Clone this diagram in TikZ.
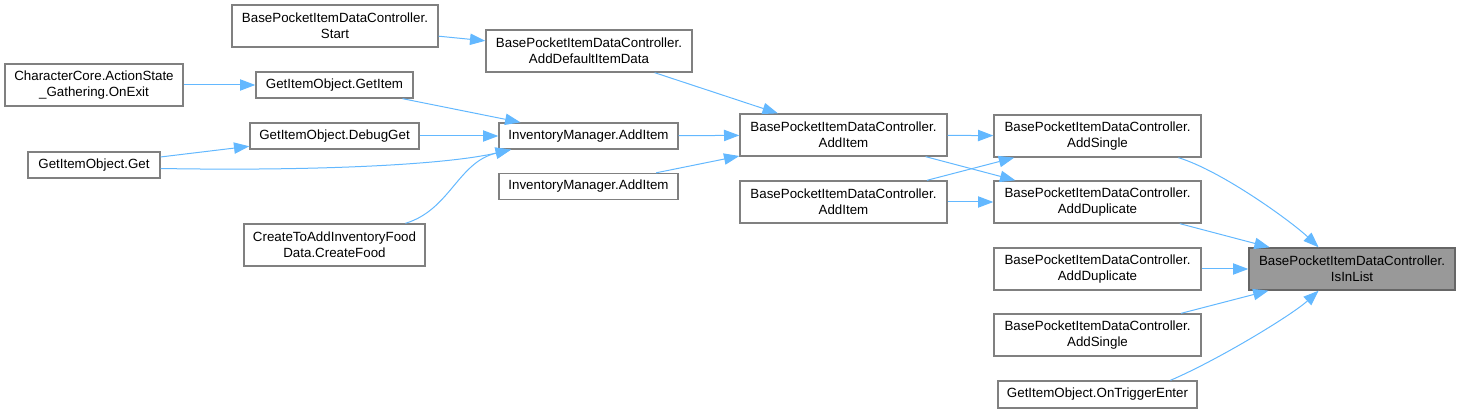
\documentclass[tikz,border=0pt]{standalone}
\usepackage{fontspec}
\setsansfont{Liberation Sans}
\usepackage{xcolor}
\usepackage{tikz}
\usetikzlibrary{arrows.meta,positioning}
\definecolor{edgeblue}{HTML}{63B8FF}
\definecolor{boxline}{HTML}{808080}
\definecolor{hlfill}{HTML}{999999}
\definecolor{hlline}{HTML}{666666}
\tikzset{
  fn/.style={draw=boxline, line width=1pt, fill=white, inner sep=0pt,
             minimum height=31.5pt, align=center,
             font=\sffamily\fontsize{10}{12}\selectfont},
  fnone/.style={fn, minimum height=19.5pt},
  target/.style={fn, fill=hlfill, draw=hlline},
  flow/.style={-{Triangle[length=11.5pt,width=8.5pt]}, line width=0.75pt, draw=edgeblue}
}

\begin{document}
\begin{tikzpicture}[x=0.75pt, y=-0.75pt]
    \useasboundingbox (0,0) rectangle (1461,413);

    \node[fn, minimum width=154.5pt] (start) at (335,26) {BasePocketItemDataController.\\Start};
    \node[fn, minimum width=154.5pt] (adddefault) at (589,51) {BasePocketItemDataController.\\AddDefaultItemData};
    \node[fn, minimum width=133.5pt] (onexit) at (94,85) {CharacterCore.ActionState\\\_Gathering.OnExit};
    \node[fnone, minimum width=117.75pt] (getitem) at (334.5,85) {GetItemObject.GetItem};
    \node[fnone, minimum width=126.75pt] (debugget) at (334.5,136) {GetItemObject.DebugGet};
    \node[fnone, minimum width=99pt] (get) at (94,165) {GetItemObject.Get};
    \node[fn, minimum width=135.75pt] (createfood) at (334.5,245) {CreateToAddInventoryFood\\Data.CreateFood};
    \node[fnone, minimum width=134.25pt] (imadd) at (588.5,136) {InventoryManager.AddItem};
    \node[fnone, minimum width=134.25pt] (imaddb) at (588.5,186.5) {InventoryManager.AddItem};
    \node[fn, minimum width=155.25pt] (bpadd) at (843.5,135) {BasePocketItemDataController.\\AddItem};
    \node[fn, minimum width=155.25pt] (bpaddb) at (843.5,202) {BasePocketItemDataController.\\AddItem};
    \node[fn, minimum width=155.25pt] (single) at (1097.5,136) {BasePocketItemDataController.\\AddSingle};
    \node[fn, minimum width=155.25pt] (dup) at (1097.5,202) {BasePocketItemDataController.\\AddDuplicate};
    \node[fn, minimum width=155.25pt] (dupb) at (1097.5,269) {BasePocketItemDataController.\\AddDuplicate};
    \node[fn, minimum width=155.25pt] (singleb) at (1097.5,335) {BasePocketItemDataController.\\AddSingle};
    \node[fnone, minimum width=149.25pt, minimum height=20.25pt] (trigger) at (1097.5,394.5) {GetItemObject.OnTriggerEnter};
    \node[target, minimum width=154.5pt] (isinlist) at (1352,269) {BasePocketItemDataController.\\IsInList};

    \draw[flow] (start) -- (adddefault);
    \draw[flow] (onexit) -- (getitem);
    \draw[flow] (get) -- (debugget);
    \draw[flow] (getitem) -- (imadd);
    \draw[flow] (debugget) -- (imadd);
    \draw[flow] (get.-3) .. controls (300,171) and (440,166) .. (imadd.190);
    \draw[flow] (createfood.17) .. controls (450,210) and (458,162) .. (imadd.190);
    \draw[flow] (adddefault) -- (bpadd);
    \draw[flow] (imadd) -- (bpadd);
    \draw[flow] (imaddb) -- (bpadd);
    \draw[flow] (bpadd) -- (single);
    \draw[flow] (bpadd) -- (dup);
    \draw[flow] (bpaddb) -- (single);
    \draw[flow] (bpaddb) -- (dup);
    \draw[flow] (single.-15) .. controls (1222,171) and (1292,222) .. (isinlist.147);
    \draw[flow] (dup) -- (isinlist);
    \draw[flow] (dupb) -- (isinlist);
    \draw[flow] (singleb) -- (isinlist);
    \draw[flow] (trigger.11) .. controls (1218,360) and (1292,315) .. (isinlist.213);
\end{tikzpicture}
\end{document}
